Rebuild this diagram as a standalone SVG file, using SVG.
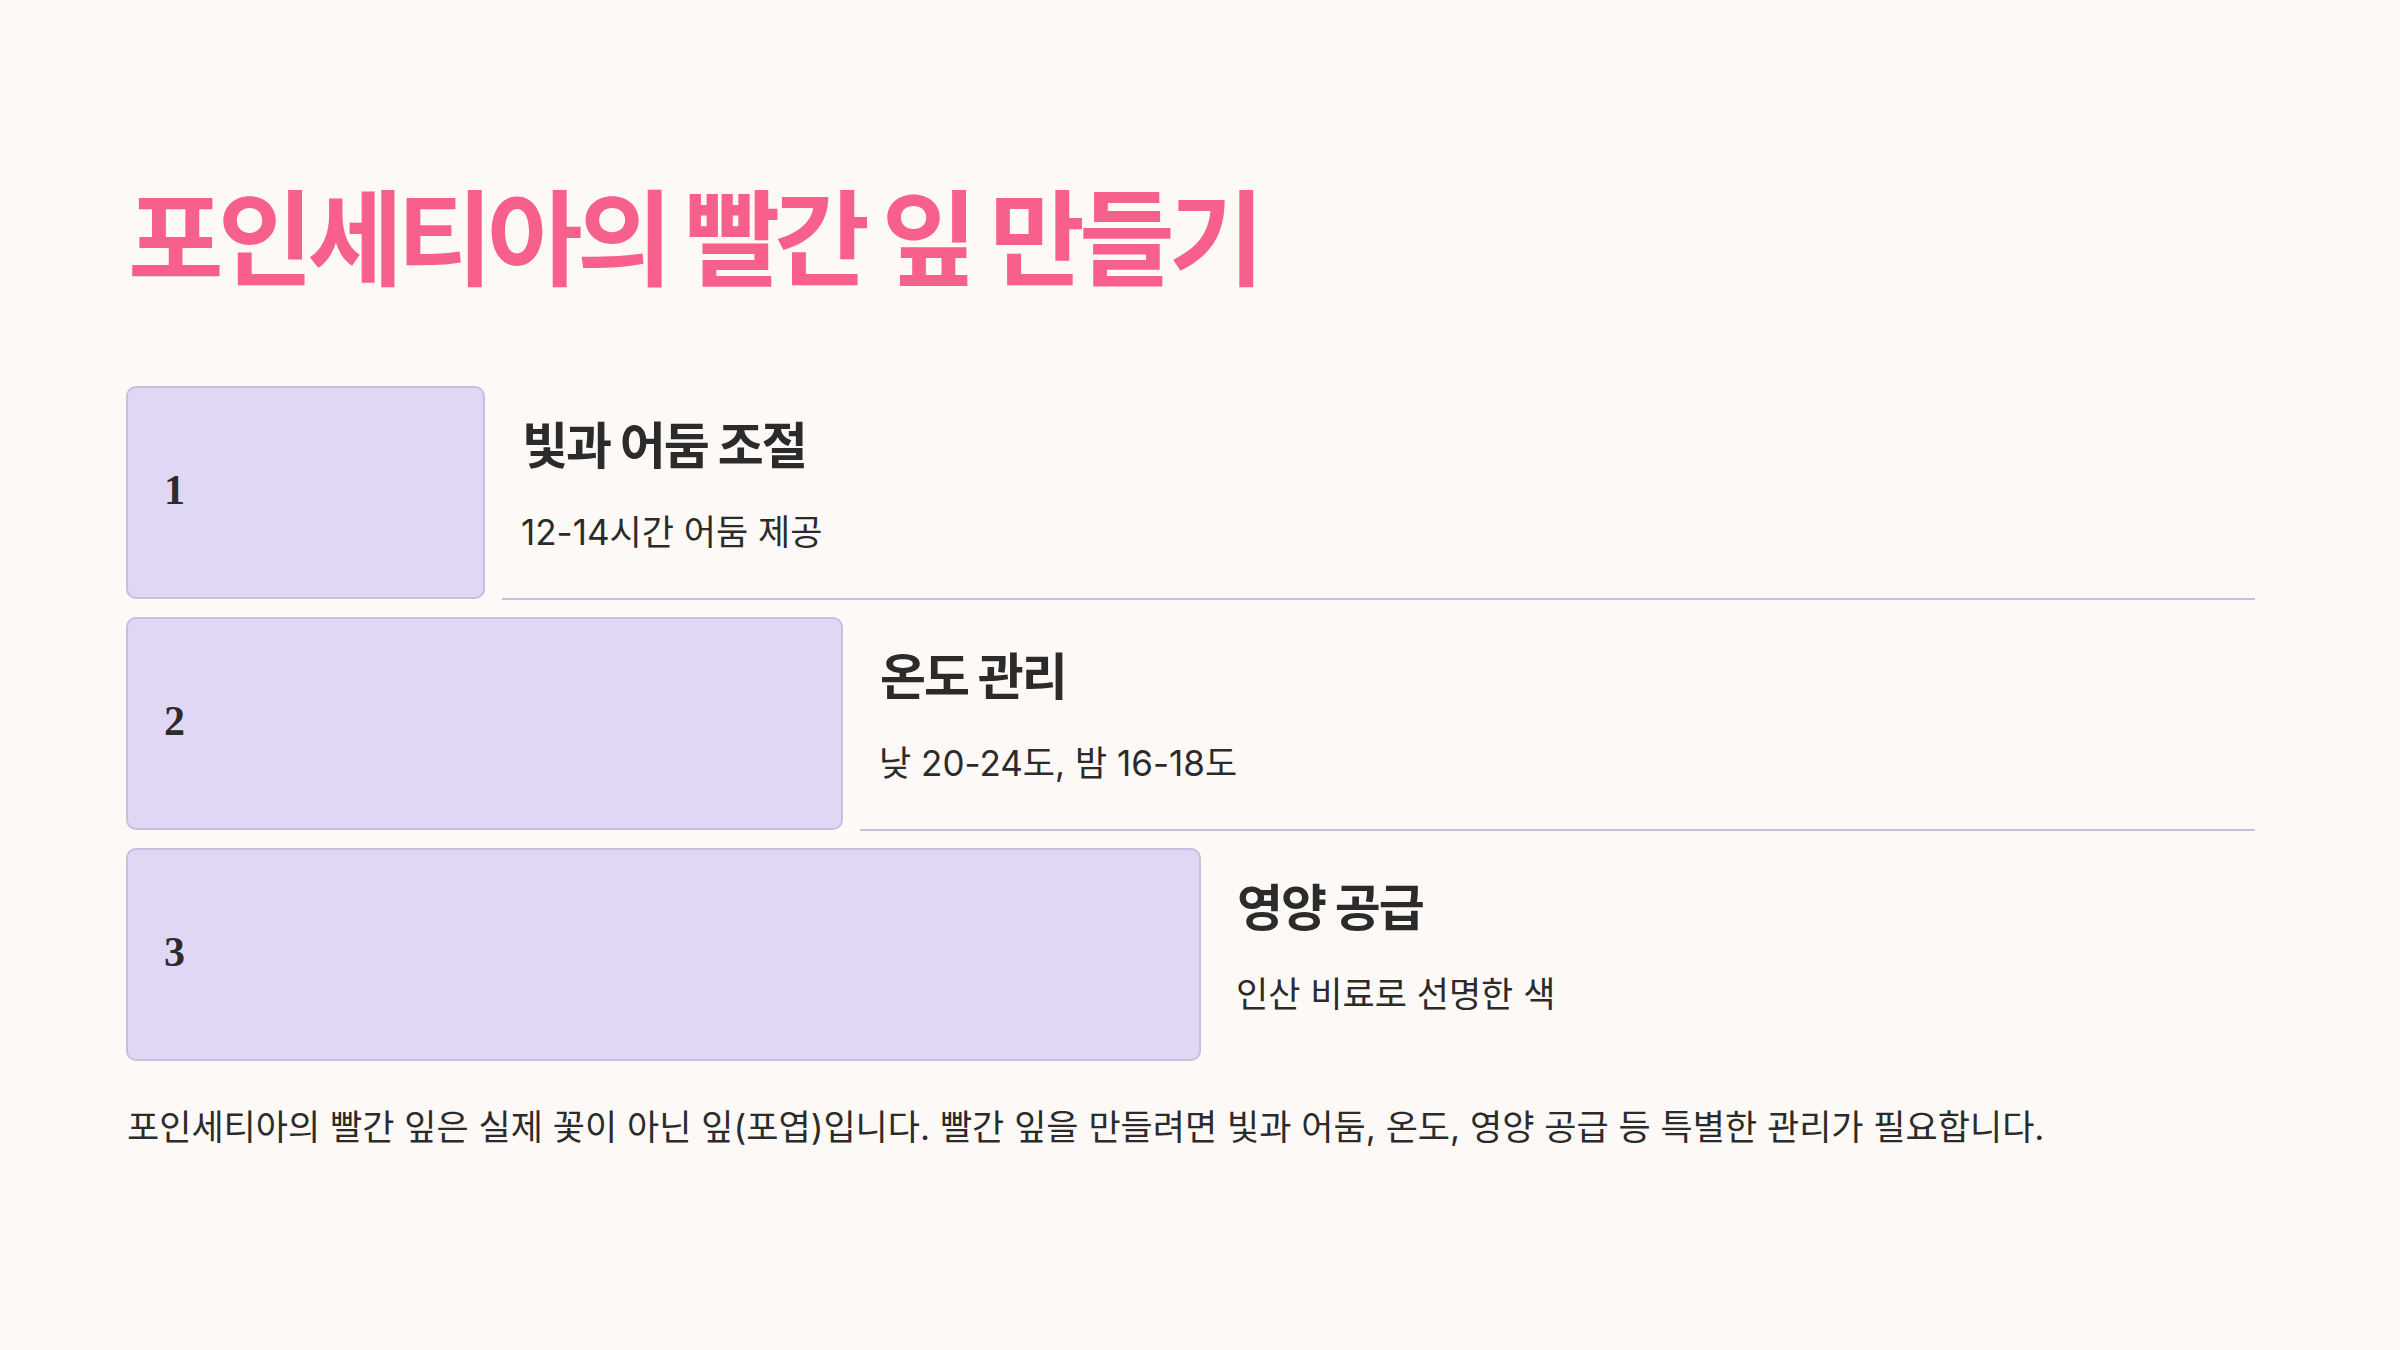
<svg xmlns="http://www.w3.org/2000/svg" width="2400" height="1350" viewBox="0 0 2400 1350">
<style>
.title{font-family:"Noto Sans CJK KR","Noto Sans",sans-serif;font-weight:700;font-size:104px;fill:#F7608A;letter-spacing:-5.9px}
.box{fill:#E0D7F5;stroke:#C7BEE0;stroke-width:2}
.num{font-family:"Liberation Serif","DejaVu Serif",serif;font-weight:700;font-size:42px;fill:#2B2B2B}
.head{font-family:Inter,"Noto Sans CJK KR",sans-serif;font-weight:700;font-size:50px;fill:#2B2B2B;letter-spacing:-2px}
.sub{font-family:Inter,"Noto Sans CJK KR",sans-serif;font-weight:400;font-size:35px;fill:#2B2B2B}
.rule{stroke:#C7BEE0;stroke-width:2}
.foot{font-family:Inter,"Noto Sans CJK KR",sans-serif;font-weight:400;font-size:35px;fill:#2B2B2B}
</style>
<rect width="2400" height="1350" fill="#FDF9F6"/>
<text class="title" x="128" y="278">포인세티아의 빨간 잎 만들기</text>
<g id="connectors">
<line class="rule" x1="502" y1="599" x2="2255" y2="599"/>
<line class="rule" x1="860" y1="830" x2="2255" y2="830"/>
</g>
<g id="step1">
<rect class="box" x="127" y="387" width="357" height="211" rx="9"/>
<text class="num" x="164" y="504">1</text>
<text class="head" x="522" y="464">빛과 어둠 조절</text>
<text class="sub" x="521" y="545">12-14시간 어둠 제공</text>
</g>
<g id="step2">
<rect class="box" x="127" y="618" width="715" height="211" rx="9"/>
<text class="num" x="164" y="735">2</text>
<text class="head" x="880" y="695">온도 관리</text>
<text class="sub" x="879" y="776">낮 20-24도, 밤 16-18도</text>
</g>
<g id="step3">
<rect class="box" x="127" y="849" width="1073" height="211" rx="9"/>
<text class="num" x="164" y="966">3</text>
<text class="head" x="1237" y="926">영양 공급</text>
<text class="sub" x="1236" y="1007">인산 비료로 선명한 색</text>
</g>
<text class="foot" x="127" y="1140">포인세티아의 빨간 잎은 실제 꽃이 아닌 잎(포엽)입니다. 빨간 잎을 만들려면 빛과 어둠, 온도, 영양 공급 등 특별한 관리가 필요합니다.</text>
</svg>
